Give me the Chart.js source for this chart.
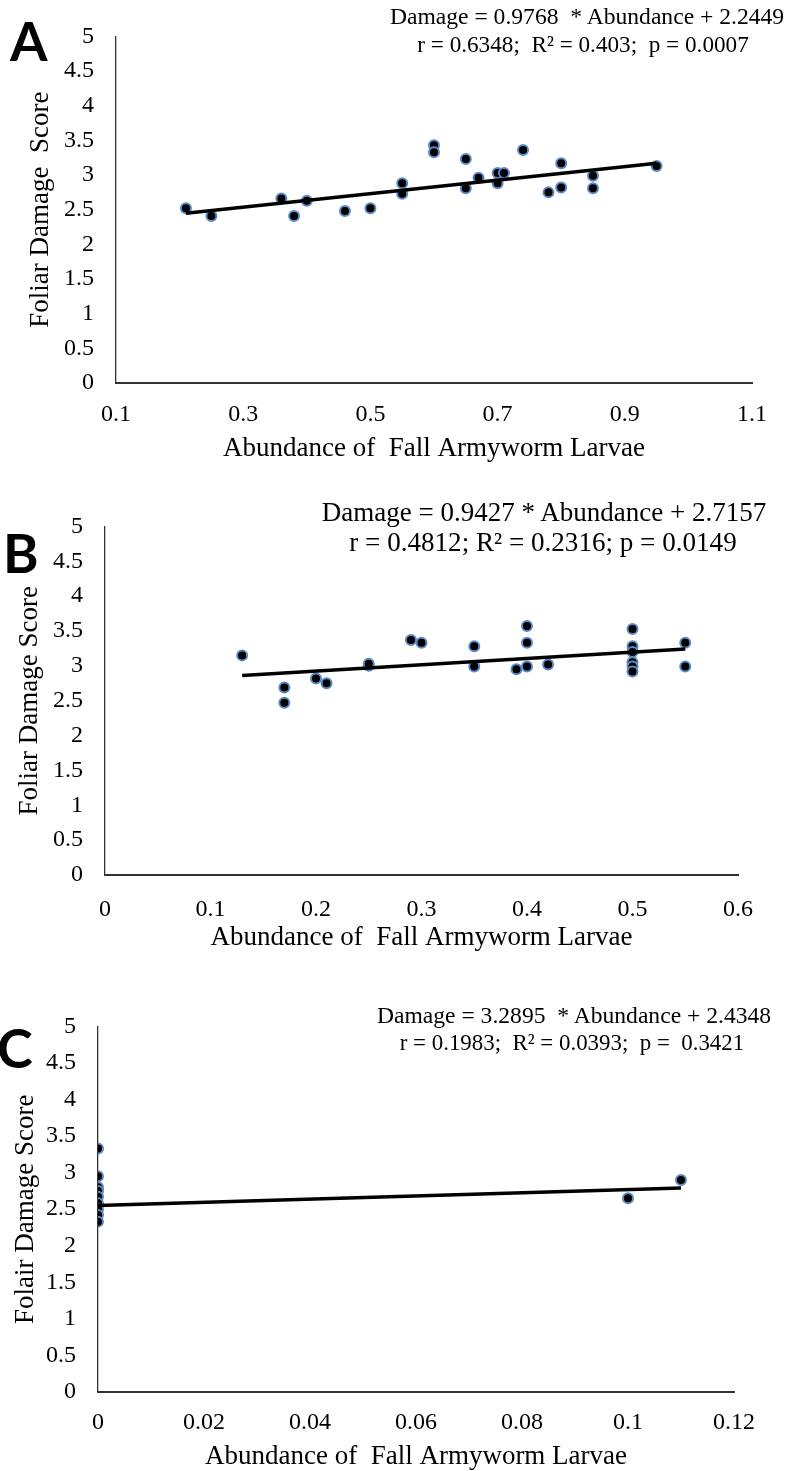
<!DOCTYPE html>
<html>
<head>
<meta charset="utf-8">
<script src="https://cdn.jsdelivr.net/npm/chart.js@4.4.0/dist/chart.umd.min.js"></script>
<style>
  html, body { margin: 0; padding: 0; background: #fff; overflow: hidden; }
  #page { position: relative; width: 787px; height: 1471px; overflow: hidden; }
  .panel { position: absolute; left: 0; }
  .letter { position: absolute; font-family: Lato, "Open Sans", sans-serif; font-weight: 700; font-size: 54px; line-height: 54px; color: #000; }
  .eq { position: absolute; font-family: "Liberation Serif", "Times New Roman", serif; font-size: 22px; line-height: 26px; color: #000; white-space: pre; }
</style>
</head>
<body>
<div id="page">
  <canvas id="chartA" class="panel" width="787" height="472" style="top:0px"></canvas>
  <canvas id="chartB" class="panel" width="787" height="470" style="top:490px"></canvas>
  <canvas id="chartC" class="panel" width="787" height="490" style="top:990px"></canvas>

  <div class="letter" style="left:10px; top:14px">A</div>
  <div class="letter" style="left:3px; top:526px">B</div>
  <div class="letter" style="left:-3px; top:1021px">C</div>

  <div class="eq" data-cx="587" data-cy="16" data-w="394">Damage = 0.9768  * Abundance + 2.2449</div>
  <div class="eq" data-cx="583" data-cy="45" data-w="332">r = 0.6348;  R² = 0.403;  p = 0.0007</div>
  <div class="eq" data-cx="544" data-cy="512" data-w="445">Damage = 0.9427 * Abundance + 2.7157</div>
  <div class="eq" data-cx="543" data-cy="542" data-w="387">r = 0.4812; R² = 0.2316; p = 0.0149</div>
  <div class="eq" data-cx="574" data-cy="1015" data-w="394">Damage = 3.2895  * Abundance + 2.4348</div>
  <div class="eq" data-cx="572" data-cy="1043" data-w="344">r = 0.1983;  R² = 0.0393;  p =  0.3421</div>
</div>
<script>
// panel A
const abundanceA = [0.21, 0.25, 0.36, 0.38, 0.40, 0.46, 0.50, 0.55, 0.55, 0.60, 0.60, 0.65, 0.65, 0.67, 0.70, 0.70, 0.71, 0.74, 0.78, 0.80, 0.80, 0.85, 0.85, 0.95];
const damageA = [2.52, 2.41, 2.66, 2.41, 2.63, 2.48, 2.52, 2.88, 2.73, 3.43, 3.33, 3.23, 2.81, 2.96, 3.03, 2.88, 3.03, 3.36, 2.75, 3.17, 2.82, 2.99, 2.81, 3.13];
const trendXA = [0.21, 0.95];
const trendYA = [2.45, 3.17];
const xTicksA = [0.1, 0.3, 0.5, 0.7, 0.9, 1.1];

// panel B
const abundanceB = [0.13, 0.17, 0.17, 0.20, 0.21, 0.25, 0.25, 0.29, 0.30, 0.35, 0.35, 0.39, 0.40, 0.40, 0.40, 0.42, 0.50, 0.50, 0.50, 0.50, 0.50, 0.50, 0.55, 0.55];
const damageB = [3.15, 2.69, 2.47, 2.82, 2.75, 3.00, 3.03, 3.37, 3.33, 3.28, 2.99, 2.95, 3.57, 3.33, 2.99, 3.02, 3.53, 3.28, 3.20, 3.05, 2.99, 2.92, 3.33, 2.99];
const trendXB = [0.13, 0.55];
const trendYB = [2.86, 3.24];
const xTicksB = [0, 0.1, 0.2, 0.3, 0.4, 0.5, 0.6];

// panel C
const abundanceC = [0, 0, 0, 0, 0, 0, 0, 0, 0, 0.10, 0.11];
const damageC = [3.33, 2.95, 2.80, 2.75, 2.67, 2.58, 2.50, 2.42, 2.33, 2.65, 2.90];
const trendXC = [0, 0.11];
const trendYC = [2.55, 2.79];
const xTicksC = [0, 0.02, 0.04, 0.06, 0.08, 0.1, 0.12];

const yTicks = [0, 0.5, 1, 1.5, 2, 2.5, 3, 3.5, 4, 4.5, 5];
const xTitle = "Abundance of  Fall Armyworm Larvae";

const SERIF = '"Liberation Serif", "Times New Roman", serif';
const POINT_BLUE = "#5a8ac6";

const toPoints = (xs, ys) => xs.map((x, i) => ({ x: x, y: ys[i] }));

const makeChart = (canvasId, cfg) => {
  const canvas = document.getElementById(canvasId);
  const H = canvas.height;
  return new Chart(canvas, {
    type: "scatter",
    data: {
      datasets: [
        {
          type: "line",
          data: toPoints(cfg.trendX, cfg.trendY),
          borderColor: "#000",
          borderWidth: 3.5,
          pointRadius: 0,
          fill: false,
        },
        {
          data: toPoints(cfg.xs, cfg.ys),
          backgroundColor: "#000",
          borderColor: POINT_BLUE,
          borderWidth: 2,
          pointRadius: 5,
        },
      ],
    },
    options: {
      responsive: false,
      animation: false,
      layout: { padding: { top: cfg.top, right: 787 - cfg.right, left: 0, bottom: 0 } },
      plugins: { legend: { display: false }, tooltip: { enabled: false } },
      scales: {
        x: {
          type: "linear",
          min: cfg.xTicks[0],
          max: cfg.xTicks[cfg.xTicks.length - 1],
          afterBuildTicks: (s) => { s.ticks = cfg.xTicks.map((v) => ({ value: v })); },
          afterFit: (s) => { s.height = H - cfg.bottom; },
          grid: { display: false, drawTicks: false },
          border: { display: true, color: "#333", width: 2 },
          ticks: {
            color: "#000",
            padding: cfg.xTickPad,
            maxRotation: 0,
            autoSkip: false,
            font: { family: SERIF, size: 24 },
            callback: (v) => String(v),
          },
          title: {
            display: true,
            text: xTitle,
            color: "#000",
            font: { family: SERIF, size: 27 },
            padding: { top: 0, bottom: cfg.xTitleBottom },
          },
        },
        y: {
          type: "linear",
          min: 0,
          max: 5,
          afterBuildTicks: (s) => { s.ticks = yTicks.map((v) => ({ value: v })); },
          afterFit: (s) => { s.width = cfg.left; },
          grid: { display: false, drawTicks: false },
          border: { display: true, color: "#333", width: 1.3 },
          ticks: {
            color: "#000",
            padding: 22,
            autoSkip: false,
            font: { family: SERIF, size: 24 },
            callback: (v) => String(v),
          },
          title: {
            display: true,
            text: cfg.yTitle,
            color: "#000",
            font: { family: SERIF, size: 27 },
            padding: { top: cfg.yTitleLeft, bottom: 0 },
          },
        },
      },
    },
  });
};

makeChart("chartA", {
  xs: abundanceA, ys: damageA, trendX: trendXA, trendY: trendYA, xTicks: xTicksA,
  left: 116, right: 752, top: 23, bottom: 383, xTickPad: 17, xTitleBottom: 7, yTitleLeft: 25,
  yTitle: "Foliar Damage  Score",
});
makeChart("chartB", {
  xs: abundanceB, ys: damageB, trendX: trendXB, trendY: trendYB, xTicks: xTicksB,
  left: 105, right: 738, top: 36, bottom: 385, xTickPad: 20, xTitleBottom: 6, yTitleLeft: 14,
  yTitle: "Foliar Damage Score",
});
makeChart("chartC", {
  xs: abundanceC, ys: damageC, trendX: trendXC, trendY: trendYC, xTicks: xTicksC,
  left: 98, right: 734, top: 36, bottom: 402, xTickPad: 16, xTitleBottom: 7, yTitleLeft: 10,
  yTitle: "Folair Damage Score",
});

// fit equation text to the width it has in the figure
document.querySelectorAll(".eq").forEach((el) => {
  const w = el.getBoundingClientRect().width;
  const size = 22 * Number(el.dataset.w) / w;
  el.style.fontSize = size.toFixed(1) + "px";
  el.style.lineHeight = (size * 1.2).toFixed(1) + "px";
  const r = el.getBoundingClientRect();
  el.style.left = (Number(el.dataset.cx) - r.width / 2) + "px";
  el.style.top = (Number(el.dataset.cy) - r.height / 2) + "px";
});
</script>
</body>
</html>
